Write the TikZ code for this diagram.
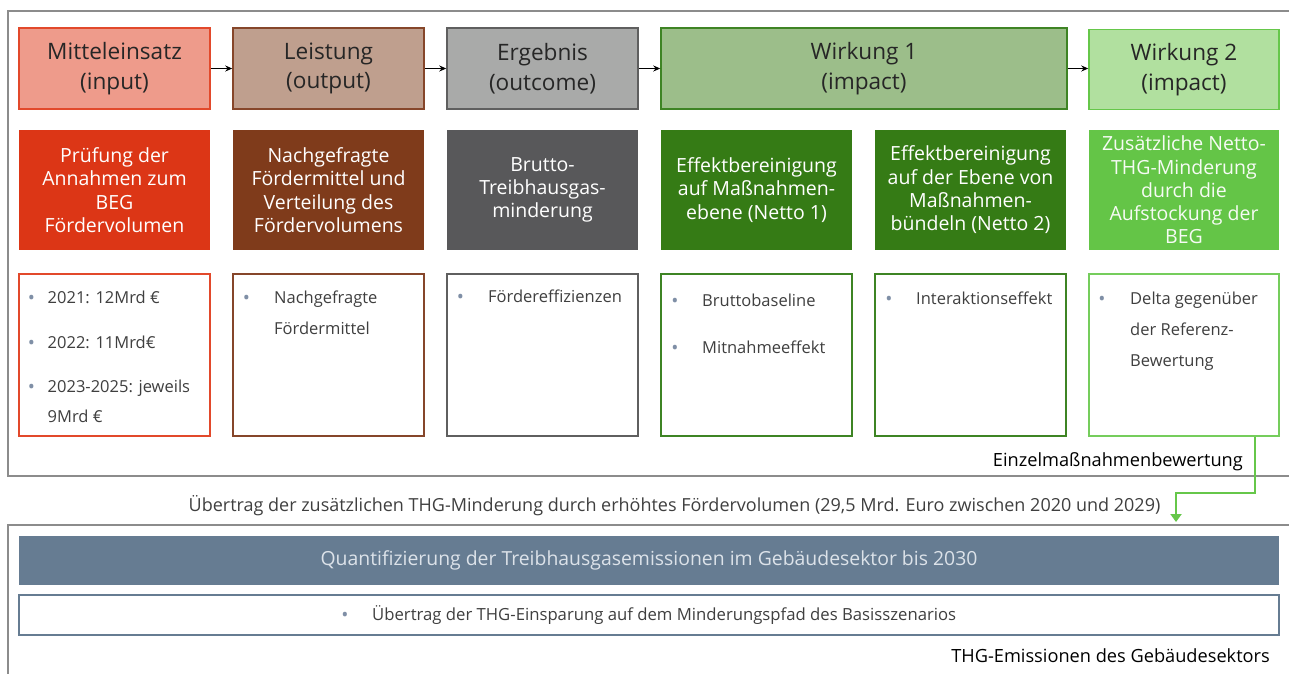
\documentclass[tikz,border=0pt]{standalone}
\usepackage{fontspec}
\setmainfont{Open Sans}
\usetikzlibrary{arrows.meta}
\definecolor{txtdark}{HTML}{262626}
\definecolor{txtgray}{HTML}{3F3F3F}
\definecolor{bulcol}{HTML}{7F8FA6}
\definecolor{framecol}{HTML}{8C8C8C}
\definecolor{hAf}{HTML}{EE9B8B}\definecolor{hAd}{HTML}{E2492B}
\definecolor{hBf}{HTML}{BF9F8E}\definecolor{hBd}{HTML}{86462A}
\definecolor{hCf}{HTML}{A9AAA9}\definecolor{hCd}{HTML}{5F5F5F}
\definecolor{hDf}{HTML}{9CBE8A}\definecolor{hDd}{HTML}{3E8424}
\definecolor{hEf}{HTML}{B1E09F}\definecolor{hEd}{HTML}{66C74A}
\definecolor{mA}{HTML}{DC3616}
\definecolor{mB}{HTML}{7F3B1B}
\definecolor{mC}{HTML}{58585A}
\definecolor{mD}{HTML}{357B15}
\definecolor{mE}{HTML}{64C547}
\definecolor{barcol}{HTML}{667C92}
\definecolor{bartxt}{HTML}{DCE2E9}
\tikzset{
  hdr/.style={draw, line width=1.5pt, inner sep=0pt, align=center, text=txtdark,
    font=\fontsize{22.6}{29.5}\selectfont, minimum height=81pt},
  midbox/.style={inner sep=0pt, align=center, text=white,
    font=\fontsize{19.5}{23.3}\selectfont, minimum height=120pt},
  lstbox/.style={draw, line width=1.5pt, fill=white, inner sep=0pt, minimum height=162pt},
  btxt/.style={anchor=base west, inner sep=0pt, text=txtgray, font=\fontsize{16.5}{20}\selectfont},
  bul/.style={anchor=base, inner sep=0pt, text=bulcol, font=\fontsize{19}{19}\selectfont},
  frame/.style={draw=framecol, line width=1.5pt},
  arr/.style={draw=black, line width=1pt, -{Stealth[length=7pt,width=6pt]}},
  gconn/.style={draw=hEd, line width=2pt, -{Triangle[length=8pt,width=11pt]}},
  lbl/.style={inner sep=0pt, text=black, font=\fontsize{18.2}{20}\selectfont}
}
\begin{document}
\begin{tikzpicture}[x=1pt,y=-1pt]
\useasboundingbox (0,0) rectangle (1289,673);
% frames
\draw[frame] (1296,11) -- (8,11) -- (8,476) -- (1296,476);
\draw[frame] (1296,525) -- (8,525) -- (8,680);
% header row
\node[hdr, fill=hAf, draw=hAd, minimum width=191pt] (h1) at (114.5,68.5) {Mitteleinsatz\\(input)};
\node[hdr, fill=hBf, draw=hBd, minimum width=191pt] (h2) at (328.5,68.5) {Leistung\\(output)};
\node[hdr, fill=hCf, draw=hCd, minimum width=191pt] (h3) at (542.5,68.5) {Ergebnis\\(outcome)};
\node[hdr, fill=hDf, draw=hDd, minimum width=406pt] (h4) at (864,68.5) {Wirkung 1\\(impact)};
\node[hdr, fill=hEf, draw=hEd, minimum width=190pt, minimum height=80pt] (h5) at (1184,69.5) {Wirkung 2\\(impact)};
\draw[arr] (h1) -- (h2);
\draw[arr] (h2) -- (h3);
\draw[arr] (h3) -- (h4);
\draw[arr] (h4.east) -- (h4.east -| h5.west);
% middle row
\node[midbox, fill=mA, minimum width=191pt] (m1) at (114.5,190) {Prüfung der\\Annahmen zum\\BEG\\Fördervolumen};
\node[midbox, fill=mB, minimum width=191pt] (m2) at (328.5,190) {Nachgefragte\\Fördermittel und\\Verteilung des\\Fördervolumens};
\node[midbox, fill=mC, minimum width=191pt] (m3) at (542.5,190) {Brutto-\\Treibhausgas-\\minderung};
\node[midbox, fill=mD, minimum width=191pt] (m4) at (756.5,190) {Effektbereinigung\\auf Maßnahmen-\\ebene (Netto 1)};
\node[midbox, fill=mD, minimum width=191pt] (m5) at (970.5,190) {Effektbereinigung\\auf der Ebene von\\Maßnahmen-\\bündeln (Netto 2)};
\node[midbox, fill=mE, minimum width=190pt, text=white!94!mE] (m6) at (1184,190) {Zusätzliche Netto-\\THG-Minderung\\durch die\\Aufstockung der\\BEG};
% list row
\node[lstbox, draw=hAd, minimum width=191pt] (l1) at (114.5,355) {};
\node[lstbox, draw=hBd, minimum width=191pt] (l2) at (328.5,355) {};
\node[lstbox, draw=hCd, minimum width=191pt] (l3) at (542.5,355) {};
\node[lstbox, draw=hDd, minimum width=191pt] (l4) at (756.5,355) {};
\node[lstbox, draw=hDd, minimum width=191pt] (l5) at (970.5,355) {};
\node[lstbox, draw=hEd!90!white, minimum width=190pt] (l6) at (1184,355) {};
% list texts
\node[bul] (b11) at (31.5,304) {•};
\node[btxt] (t11) at (47.5,303) {2021: 12Mrd €};
\node[bul] (b12) at (31.5,349) {•};
\node[btxt] (t12) at (47.5,348) {2022: 11Mrd€};
\node[bul] (b13) at (31.5,393) {•};
\node[btxt] (t13) at (47.5,392) {2023-2025: jeweils};
\node[btxt] (t14) at (47.5,422) {9Mrd €};
\node[bul] (b21) at (246.5,304) {•};
\node[btxt] (t21) at (274,303) {Nachgefragte};
\node[btxt] (t22) at (274,334) {Fördermittel};
\node[bul] (b31) at (460.5,303) {•};
\node[btxt] (t31) at (488,302) {Fördereffizienzen};
\node[bul] (b41) at (675,307) {•};
\node[btxt] (t41) at (702,306) {Bruttobaseline};
\node[bul] (b42) at (675,354) {•};
\node[btxt] (t42) at (702,353) {Mitnahmeeffekt};
\node[bul] (b51) at (889,305) {•};
\node[btxt] (t51) at (916,304) {Interaktionseffekt};
\node[bul] (b61) at (1102,305) {•};
\node[btxt] (t61) at (1130,304) {Delta gegenüber};
\node[btxt] (t62) at (1130,335) {der Referenz-};
\node[btxt] (t63) at (1130,366) {Bewertung};
% labels
\node[lbl, anchor=base east] (einz) at (1243,466) {Einzelmaßnahmenbewertung};
\node[inner sep=0pt, text=txtgray, font=\fontsize{18}{20}\selectfont] (uebertrag) at (674.5,506) {Übertrag der zusätzlichen THG-Minderung durch erhöhtes Fördervolumen (29,5 Mrd. Euro zwischen 2020 und 2029)};
% connector
\coordinate (tgt) at (1176,522);
\draw[gconn] ([xshift=-25pt]l6.south east) -- ++(0,56) -| (tgt);
% bottom part
\node[fill=barcol, inner sep=0pt, minimum width=1260pt, minimum height=49pt, text=bartxt, font=\fontsize{19.4}{22}\selectfont] (bar) at (649,560.5) {Quantifizierung der Treibhausgasemissionen im Gebäudesektor bis 2030};
\node[draw=barcol, line width=1.5pt, fill=white, inner sep=0pt, minimum width=1260pt, minimum height=40pt] (wbox) at (649,615) {};
\node[bul] (bw) at (345,621) {•};
\node[btxt, font=\fontsize{16.7}{20}\selectfont] (tw) at (372,620) {Übertrag der THG-Einsparung auf dem Minderungspfad des Basisszenarios};
\node[lbl, anchor=base east] (thg) at (1270,662) {THG-Emissionen des Gebäudesektors};
\end{tikzpicture}
\end{document}
